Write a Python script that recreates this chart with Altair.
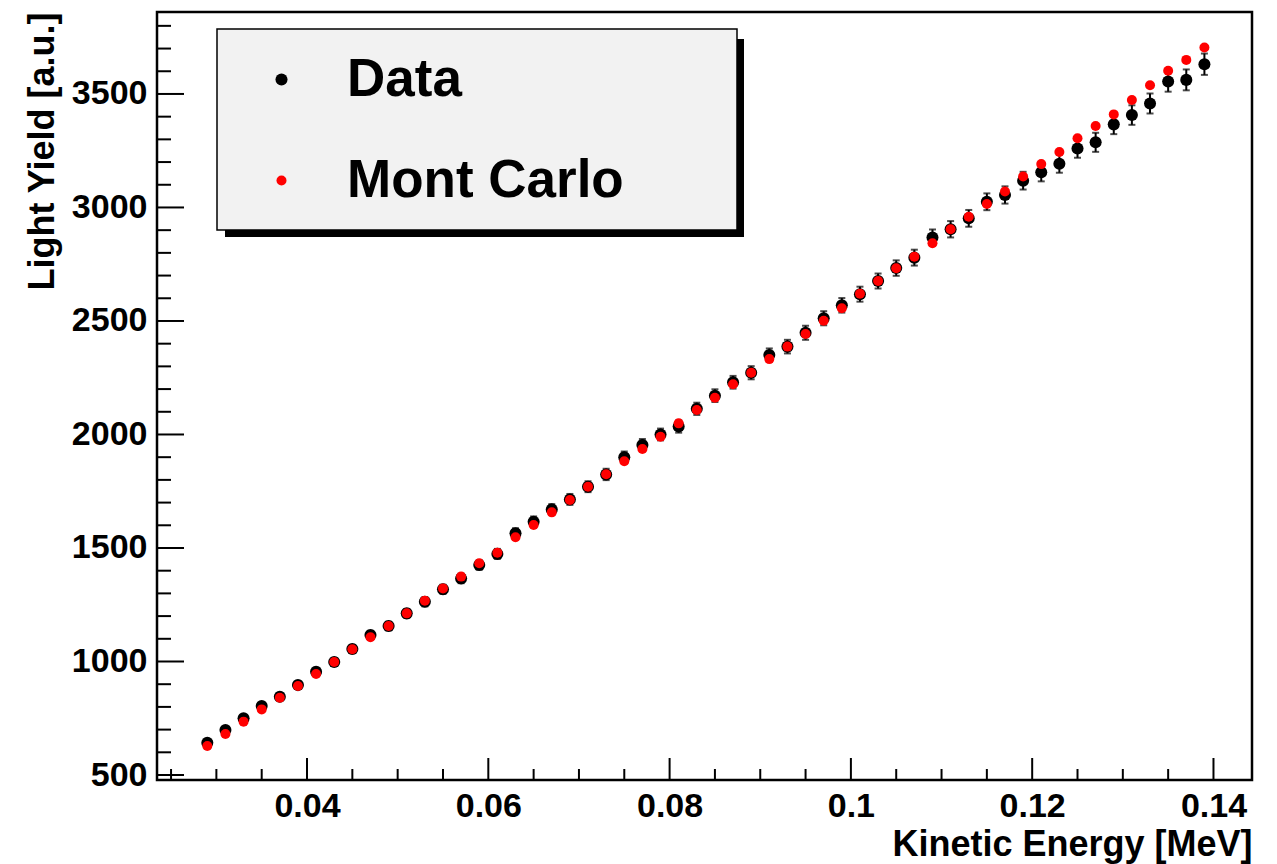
import altair as alt
import pandas as pd

# ---- data ----
energy = [0.029, 0.031, 0.033, 0.035, 0.037, 0.039, 0.041, 0.043, 0.045, 0.047,
          0.049, 0.051, 0.053, 0.055, 0.057, 0.059, 0.061, 0.063, 0.065, 0.067,
          0.069, 0.071, 0.073, 0.075, 0.077, 0.079, 0.081, 0.083, 0.085, 0.087,
          0.089, 0.091, 0.093, 0.095, 0.097, 0.099, 0.101, 0.103, 0.105, 0.107,
          0.109, 0.111, 0.113, 0.115, 0.117, 0.119, 0.121, 0.123, 0.125, 0.127,
          0.129, 0.131, 0.133, 0.135, 0.137, 0.139]

data_ly = [642, 698, 750, 804, 845, 896, 955, 998, 1055, 1117,
           1156, 1212, 1263, 1318, 1366, 1425, 1474, 1565, 1616, 1670,
           1714, 1770, 1824, 1900, 1954, 2000, 2035, 2113, 2171, 2230,
           2272, 2350, 2387, 2448, 2512, 2569, 2618, 2676, 2733, 2779,
           2868, 2904, 2952, 3025, 3055, 3118, 3155, 3193, 3260, 3287,
           3366, 3407, 3458, 3555, 3562, 3631]

data_err = [14, 14, 15, 15, 16, 16, 17, 17, 18, 18,
            19, 19, 20, 20, 21, 21, 22, 22, 23, 23,
            24, 24, 25, 25, 26, 26, 27, 27, 28, 28,
            29, 29, 30, 31, 31, 32, 33, 33, 34, 35,
            35, 36, 37, 37, 38, 39, 40, 40, 41, 42,
            43, 43, 44, 45, 46, 47]

mc_ly = [628, 681, 735, 789, 840, 892, 945, 998, 1054, 1107,
         1156, 1212, 1268, 1322, 1374, 1433, 1479, 1547, 1601, 1657,
         1711, 1770, 1825, 1882, 1936, 1990, 2049, 2108, 2162, 2221,
         2272, 2332, 2387, 2443, 2501, 2556, 2620, 2676, 2732, 2783,
         2842, 2904, 2959, 3015, 3070, 3136, 3191, 3244, 3305, 3359,
         3410, 3473, 3538, 3602, 3650, 3705]

series_names = ["Data", "Mont Carlo"]
series_colors = ["#000000", "#ff0000"]
series_sizes = [145, 100]

x_major = [0.04, 0.06, 0.08, 0.10, 0.12, 0.14]
x_minor = [0.025, 0.03, 0.035, 0.045, 0.05, 0.055, 0.065, 0.07, 0.075, 0.085,
           0.09, 0.095, 0.105, 0.11, 0.115, 0.125, 0.13, 0.135]
y_major = [500, 1000, 1500, 2000, 2500, 3000, 3500]
y_minor = [600, 700, 800, 900, 1100, 1200, 1300, 1400, 1600, 1700, 1800, 1900,
           2100, 2200, 2300, 2400, 2600, 2700, 2800, 2900, 3100, 3200, 3300, 3400,
           3600, 3700, 3800]

x_domain = [0.02345, 0.14425]
y_domain = [478, 3861]

W, H = 1095, 768
FONT = "Liberation Sans, Arial, Helvetica, sans-serif"

# ---- tables ----
points = pd.DataFrame({
    "energy": energy + energy,
    "ly": data_ly + mc_ly,
    "series": [series_names[0]] * len(energy) + [series_names[1]] * len(energy),
})
errs = pd.DataFrame({
    "energy": energy,
    "lo": [v - e for v, e in zip(data_ly, data_err)],
    "hi": [v + e for v, e in zip(data_ly, data_err)],
})
one = pd.DataFrame({"a": [0]})

xs = alt.Scale(domain=x_domain, nice=False, zero=False)
ys = alt.Scale(domain=y_domain, nice=False, zero=False)

ax_x = alt.Axis(
    values=x_major, format="~g", grid=False, ticks=False, tickSize=0, domain=False,
    labelFont=FONT, labelFontSize=34, labelFontWeight="bold", labelColor="black",
    labelPadding=9, labelFlush=False,
    title="Kinetic Energy [MeV]", titleFont=FONT, titleFontSize=36,
    titleFontWeight="bold", titleColor="black", titleAnchor="end",
    titleAlign="right", titleBaseline="alphabetic", titleX=W, titleY=75,
)
ax_y = alt.Axis(
    values=y_major, format="d", grid=False, ticks=False, tickSize=0, domain=False,
    labelFont=FONT, labelFontSize=34, labelFontWeight="bold", labelColor="black",
    labelPadding=10, labelFlush=False,
    title="Light Yield [a.u.]", titleFont=FONT, titleFontSize=36,
    titleFontWeight="bold", titleColor="black", titleAnchor="end",
    titleAlign="right", titleBaseline="alphabetic", titleAngle=270,
    titleX=-104, titleY=0,
)

legend = alt.Legend(
    orient="none", legendX=98, legendY=41, title=None, padding=0,
    labelFont=FONT, labelFontSize=53, labelFontWeight="bold", labelColor="black",
    labelOffset=39, labelLimit=0, rowPadding=47, symbolType="circle", symbolStrokeWidth=0,
    symbolOpacity=1, fillColor="transparent", strokeColor="transparent",
)

# legend frame (decoration)
shadow = alt.Chart(one).mark_rect(color="black").encode(
    x=alt.value(68), x2=alt.value(587), y=alt.value(27), y2=alt.value(225)
)
box = alt.Chart(one).mark_rect(fill="#f2f2f2", stroke="black", strokeWidth=1.5).encode(
    x=alt.value(60), x2=alt.value(580), y=alt.value(17), y2=alt.value(218)
)

# inward ticks
ymaj = alt.Chart(pd.DataFrame({"v": y_major})).mark_rule(color="black", strokeWidth=2).encode(
    y=alt.Y("v:Q", scale=ys, axis=ax_y), x=alt.value(0), x2=alt.value(27)
)
ymin = alt.Chart(pd.DataFrame({"v": y_minor})).mark_rule(color="black", strokeWidth=2).encode(
    y=alt.Y("v:Q", scale=ys, axis=ax_y), x=alt.value(0), x2=alt.value(14)
)
xmaj = alt.Chart(pd.DataFrame({"v": x_major})).mark_rule(color="black", strokeWidth=2).encode(
    x=alt.X("v:Q", scale=xs, axis=ax_x), y=alt.value(H), y2=alt.value(H - 22)
)
xmin = alt.Chart(pd.DataFrame({"v": x_minor})).mark_rule(color="black", strokeWidth=2).encode(
    x=alt.X("v:Q", scale=xs, axis=ax_x), y=alt.value(H), y2=alt.value(H - 11)
)

# error bars on Data
err_rule = alt.Chart(errs).mark_rule(color="black", strokeWidth=2).encode(
    x=alt.X("energy:Q", scale=xs, axis=ax_x),
    y=alt.Y("lo:Q", scale=ys, axis=ax_y),
    y2="hi:Q",
)
cap_lo = alt.Chart(errs).mark_tick(color="black", orient="horizontal", size=7, thickness=2).encode(
    x=alt.X("energy:Q", scale=xs, axis=ax_x), y=alt.Y("lo:Q", scale=ys, axis=ax_y)
)
cap_hi = alt.Chart(errs).mark_tick(color="black", orient="horizontal", size=7, thickness=2).encode(
    x=alt.X("energy:Q", scale=xs, axis=ax_x), y=alt.Y("hi:Q", scale=ys, axis=ax_y)
)

pts = alt.Chart(points).mark_circle(opacity=1).encode(
    x=alt.X("energy:Q", scale=xs, axis=ax_x),
    y=alt.Y("ly:Q", scale=ys, axis=ax_y),
    color=alt.Color("series:N", scale=alt.Scale(domain=series_names, range=series_colors),
                    legend=legend),
    size=alt.Size("series:N", scale=alt.Scale(domain=series_names, range=series_sizes),
                  legend=legend),
)

chart = alt.layer(
    shadow, box, ymaj, ymin, xmaj, xmin, err_rule, cap_lo, cap_hi, pts
).properties(
    width=W, height=H,
    padding={"left": 157, "top": 12, "right": 25, "bottom": 84},
    autosize=alt.AutoSizeParams(type="none"),
    background="white",
).configure_view(stroke="black", strokeWidth=2.5)

chart.save("out.html", embed_options={"renderer": "svg", "actions": False})
